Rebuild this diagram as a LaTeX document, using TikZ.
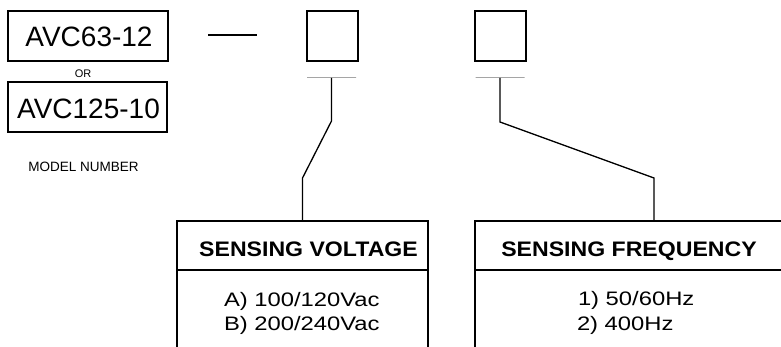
\documentclass[tikz,border=0pt]{standalone}
\usepackage{fontspec}
\setmainfont{Liberation Sans}
\newfontfamily\hdfont[FakeStretch=1.1]{Liberation Sans}
\newfontfamily\optfont[FakeStretch=1.22]{Liberation Sans}
\begin{document}
\begin{tikzpicture}[x=1pt,y=-1pt,line width=1.3pt,
  every node/.style={inner sep=0pt,outer sep=0pt},
  modelbox/.style={draw,minimum width=160pt,minimum height=50pt},
  digitbox/.style={draw,minimum width=51pt,minimum height=50pt},
  barline/.style={draw,line width=1pt,minimum width=49pt,minimum height=0pt},
  headbox/.style={draw,minimum height=49pt},
  modeltext/.style={anchor=base,font=\fontsize{28}{30}\selectfont},
  headtext/.style={anchor=base,font=\hdfont\bfseries\fontsize{21}{24}\selectfont},
  opttext/.style={anchor=base west,font=\optfont\fontsize{19.5}{22}\selectfont},
  conn/.style={draw,line width=1.3pt}]
\useasboundingbox (0,0) rectangle (781,347);
% model number boxes
\node[modelbox] (m1) at (88,36) {};
\node[modeltext] (m1t) at (89,47) {AVC63-12};
\node[anchor=base,font=\fontsize{11}{12}\selectfont] (or) at (83,77.3) {OR};
\node[modelbox,minimum width=159pt] (m2) at (87.5,107) {};
\node[modeltext] (m2t) at (88.5,118.3) {AVC125-10};
\node[anchor=base,font=\fontsize{13.5}{15}\selectfont] (mn) at (83.5,171.7) {MODEL NUMBER};
% dash
\draw (208,35) -- (257,35);
% digit squares and bars
\node[digitbox] (s1) at (332.5,36) {};
\node[digitbox] (s2) at (500.5,36) {};
\node[barline] (bar1) at (331.5,78) {};
\node[barline] (bar2) at (500,78) {};
% header boxes
\node[headbox,minimum width=251pt] (vhead) at (302.5,245.5) {};
\node[headbox,minimum width=312pt] (fhead) at (631,245.5) {};
\draw (vhead.south west) -- ++(0,90);
\draw (vhead.south east) -- ++(0,90);
\draw (fhead.south west) -- ++(0,90);
\draw (fhead.south east) -- ++(0,90);
\node[headtext] (vt) at (308.5,256.7) {SENSING VOLTAGE};
\node[headtext] (ft) at (629,256.7) {SENSING FREQUENCY};
% options
\node[opttext] (va) at (224,306) {A) 100/120Vac};
\node[opttext] (vb) at (224,330) {B) 200/240Vac};
\node[opttext] (fa) at (578,305) {1) 50/60Hz};
\node[opttext] (fb) at (577,330) {2) 400Hz};
% connectors
\coordinate (ftop) at (654,221);
\path[conn] (bar1.center) -- ++(0,43) -- (vhead.north |- 0,178) -- (vhead.north);
\path[conn] (bar2.center) -- ++(0,44) -- (ftop |- 0,178) -- (ftop);
\end{tikzpicture}
\end{document}
